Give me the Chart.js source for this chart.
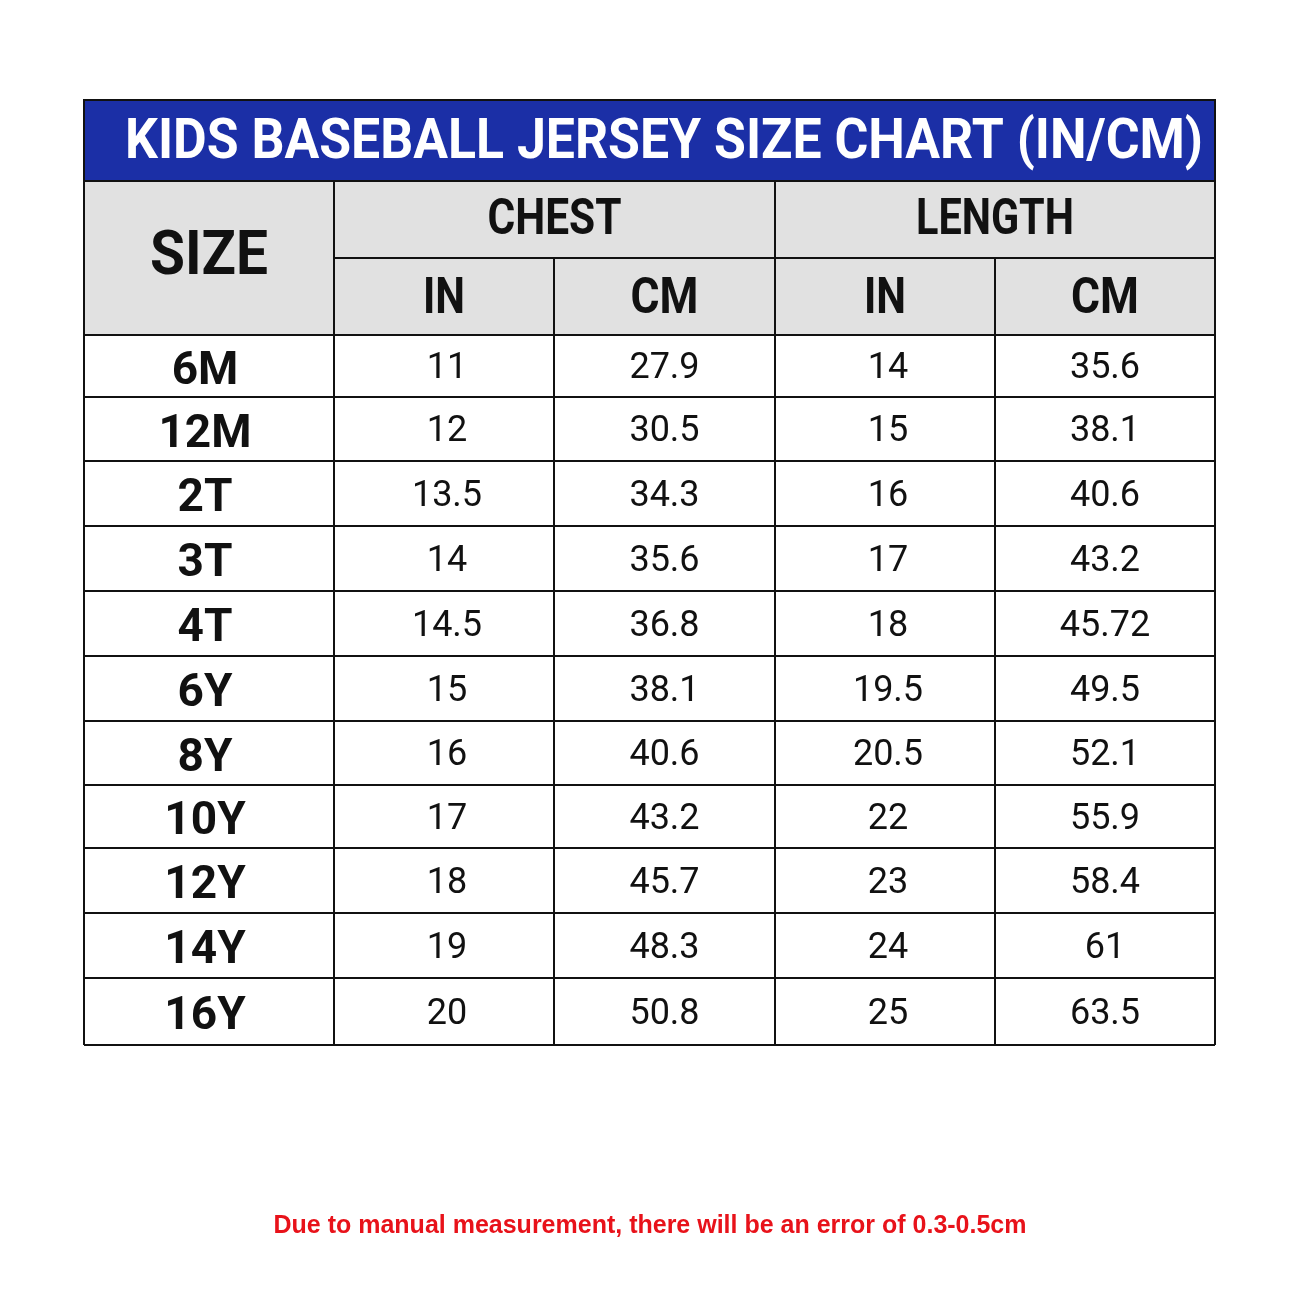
<!DOCTYPE html>
<html><head><meta charset="utf-8">
<script src="https://cdn.jsdelivr.net/npm/chart.js@4"></script>
<style>html,body{margin:0;background:#fff}</style>
</head><body>
<canvas id="c" width="1300" height="1300"></canvas>
<script>
const title = "KIDS BASEBALL JERSEY SIZE CHART (IN/CM)";
const footnote = "Due to manual measurement, there will be an error of 0.3-0.5cm";
const groups = ["CHEST", "LENGTH"];
const units = ["IN", "CM", "IN", "CM"];
const sizes = ["6M","12M","2T","3T","4T","6Y","8Y","10Y","12Y","14Y","16Y"];
const chestIn = ["11","12","13.5","14","14.5","15","16","17","18","19","20"];
const chestCm = ["27.9","30.5","34.3","35.6","36.8","38.1","40.6","43.2","45.7","48.3","50.8"];
const lengthIn = ["14","15","16","17","18","19.5","20.5","22","23","24","25"];
const lengthCm = ["35.6","38.1","40.6","43.2","45.72","49.5","52.1","55.9","58.4","61","63.5"];

// layout (x in table units, y in table units)
const colEdges = [0, 250, 470, 691, 911, 1131];
const titleH = 81, hdrH = 77;
const rowEdges = [0, 62, 126, 191, 256, 321, 386, 450, 513, 578, 643, 710];

const tablePlugin = {
  id: 'table',
  afterDraw(chart) {
    const ctx = chart.ctx, xs = chart.scales.x, ys = chart.scales.y;
    const X = v => xs.getPixelForValue(v), Y = v => ys.getPixelForValue(v);
    const top = titleH, hTop = titleH, hMid = titleH + hdrH, hBot = titleH + 2*hdrH;
    const dY = r => hBot + r;
    ctx.save();
    // title bar
    ctx.fillStyle = '#1b2fa6';
    ctx.fillRect(X(0), Y(0), X(1131)-X(0), Y(titleH)-Y(0));
    // header bg
    ctx.fillStyle = '#e1e1e1';
    ctx.fillRect(X(0), Y(hTop), X(1131)-X(0), Y(hBot)-Y(hTop));
    ctx.strokeStyle = '#111'; ctx.lineWidth = 2;
    ctx.strokeRect(X(0), Y(0), X(1131)-X(0), Y(titleH)-Y(0));
    const line = (x1,y1,x2,y2)=>{ctx.beginPath();ctx.moveTo(X(x1),Y(y1));ctx.lineTo(X(x2),Y(y2));ctx.stroke();};
    const bottom = dY(rowEdges[rowEdges.length-1]);
    line(0,hTop,0,bottom); line(1131,hTop,1131,bottom);
    line(0,bottom,1131,bottom);
    line(colEdges[1],hMid,1131,hMid);
    line(0,hBot,1131,hBot);
    line(colEdges[1],hTop,colEdges[1],bottom);
    line(colEdges[3],hTop,colEdges[3],bottom);
    line(colEdges[2],hMid,colEdges[2],bottom);
    line(colEdges[4],hMid,colEdges[4],bottom);
    for (let i=1;i<rowEdges.length-1;i++) line(0,dY(rowEdges[i]),1131,dY(rowEdges[i]));
    // text
    ctx.textAlign='center'; ctx.textBaseline='middle';
    const txt=(s,x,y,font,color,maxW)=>{ctx.font=font;ctx.fillStyle=color;ctx.fillText(s,X(x),Y(y),maxW);};
    ctx.textAlign='left';
    txt(title,41,titleH/2+3,'bold 56px Roboto','#fff',1078);
    ctx.textAlign='center';
    txt("SIZE",colEdges[1]/2,(hTop+hBot)/2,'bold 62px Roboto','#111',118);
    txt(groups[0],(colEdges[1]+colEdges[3])/2,(hTop+hMid)/2+2,'bold 50px Roboto','#111',134);
    txt(groups[1],(colEdges[3]+colEdges[5])/2,(hTop+hMid)/2+2,'bold 50px Roboto','#111',158);
    units.forEach((u,i)=>txt(u,(colEdges[i+1]+colEdges[i+2])/2,(hMid+hBot)/2+4,'bold 50px Roboto','#111',u==='IN'?42:68));
    const cols=[chestIn,chestCm,lengthIn,lengthCm];
    sizes.forEach((s,r)=>{
      const cy=dY((rowEdges[r]+rowEdges[r+1])/2)+3;
      txt(s,colEdges[1]/2-4,cy+3,'bold 46px Roboto','#111');
      cols.forEach((c,i)=>txt(c[r],(colEdges[i+1]+colEdges[i+2])/2+(i===0||i===2?3:0),cy,'36px Roboto','#111'));
    });
    ctx.restore();
    ctx.save();
    ctx.font='bold 25px "Liberation Sans"'; ctx.fillStyle='#e8121a';
    ctx.textAlign='center'; ctx.textBaseline='middle';
    ctx.fillText(footnote,650,1226);
    ctx.restore();
  }
};

new Chart(document.getElementById('c'), {
  type: 'scatter',
  data: { datasets: [{ data: [], pointRadius: 0 }] },
  options: {
    responsive: false, animation: false,
    layout: { padding: { left: 84, right: 85, top: 100, bottom: 1300-100-(titleH+2*hdrH+rowEdges[rowEdges.length-1]) } },
    plugins: { legend: { display: false }, tooltip: { enabled: false } },
    scales: {
      x: { type: 'linear', min: 0, max: 1131, display: false },
      y: { type: 'linear', min: 0, max: titleH+2*hdrH+rowEdges[rowEdges.length-1], reverse: true, display: false }
    }
  },
  plugins: [tablePlugin]
});
</script>
</body></html>
